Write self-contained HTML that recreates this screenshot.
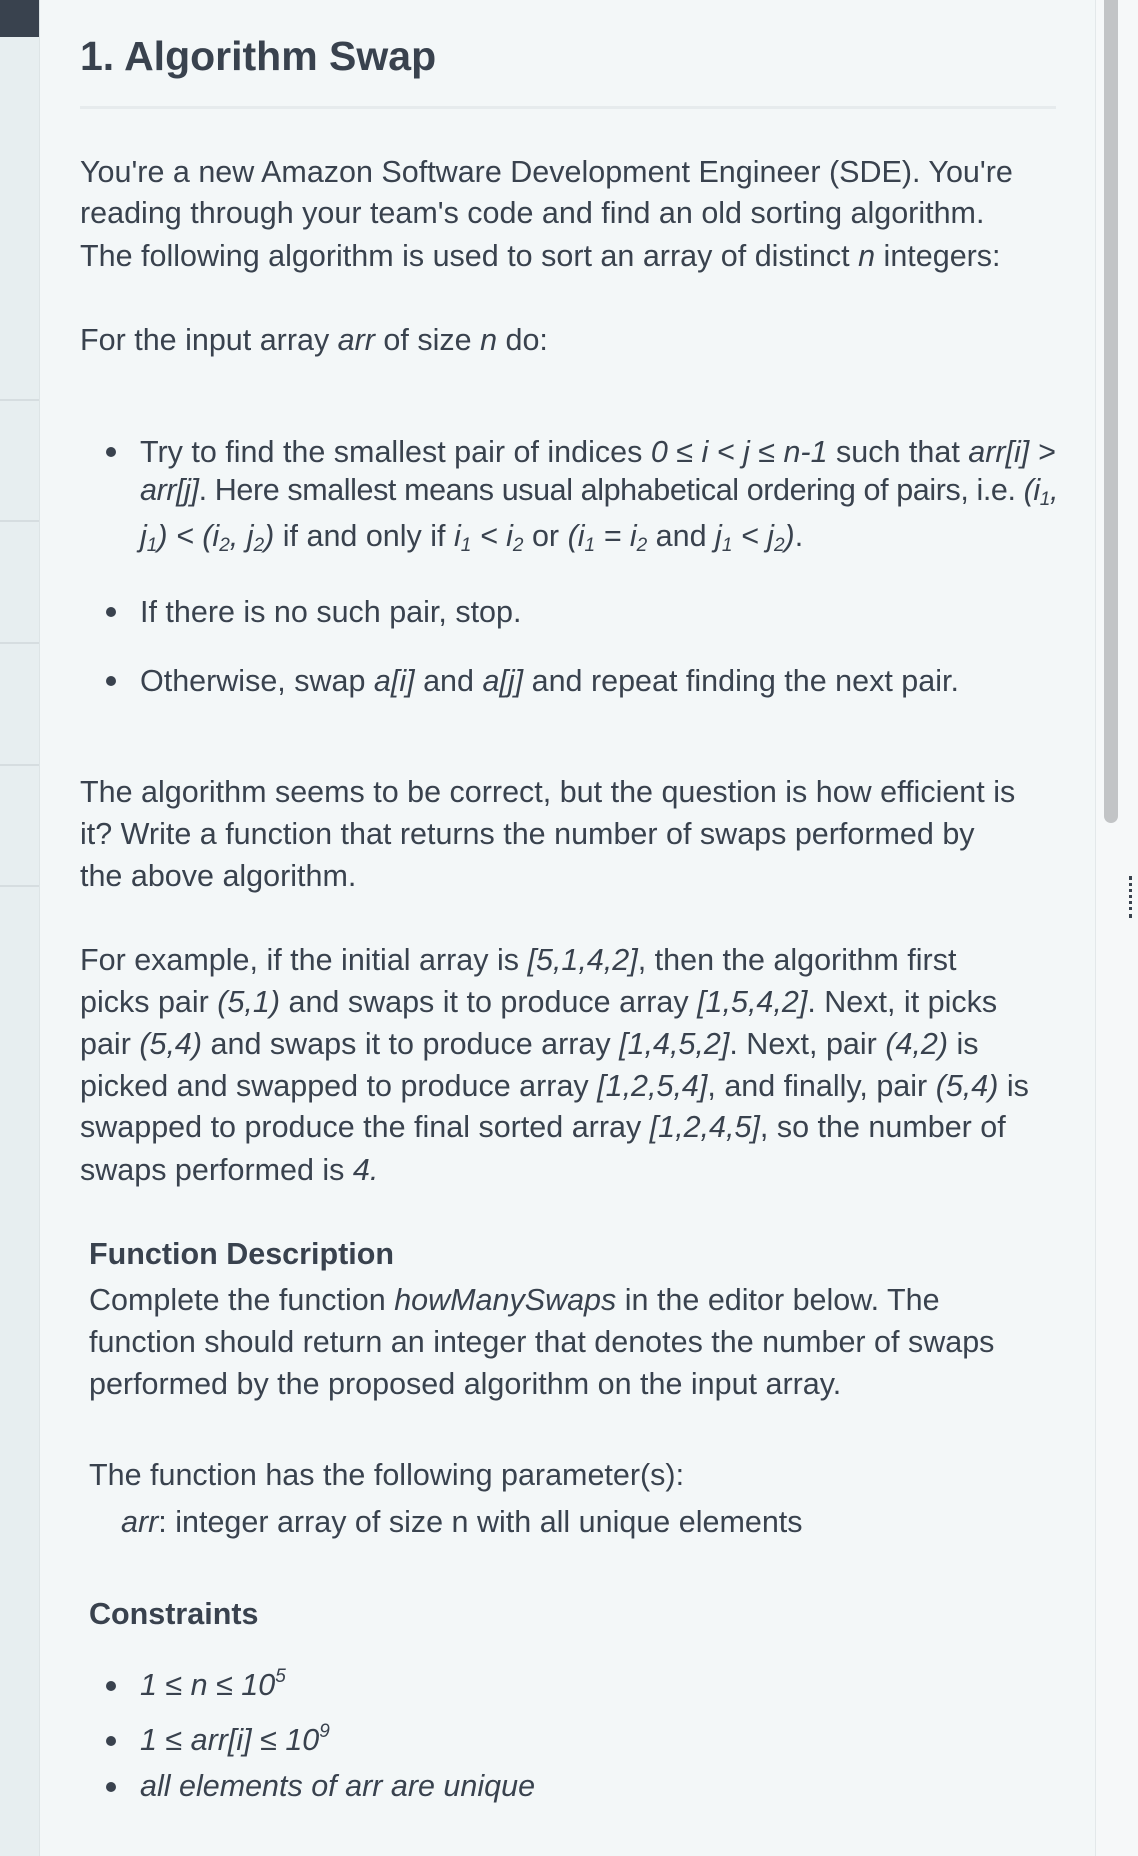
<!DOCTYPE html>
<html><head><meta charset="utf-8"><style>
html,body{margin:0;padding:0}
body{width:1138px;height:1856px;position:relative;overflow:hidden;background:#f3f7f8;font-family:"Liberation Sans",sans-serif;color:#39424e}
.side{position:absolute;left:0;top:0;width:39px;height:1856px;background:#e7eef0;border-right:1px solid #dde4e6}
.side .blk{position:absolute;left:0;top:0;width:39px;height:37px;background:#39424e}
.side .ln{position:absolute;left:0;width:39px;height:2px;background:#d6dde0}
.right{position:absolute;left:1095px;top:0;width:43px;height:1856px;background:#f6f8f9;border-left:1px solid #e3e8ea}
.thumb{position:absolute;left:1104px;top:0;width:14px;height:823px;background:#c2c4c6;border-radius:0 0 7px 7px}
.dots{position:absolute;left:1129px;top:876px;width:3px;height:42px;border-left:3px dotted #39424e}
.l{position:absolute;white-space:nowrap;height:42px;line-height:42px;font-size:30.5px}
.h1{position:absolute;left:80px;top:30px;font-size:41px;font-weight:bold;line-height:52px;white-space:nowrap}
.hr{position:absolute;left:80px;top:106px;width:976px;height:3px;background:#e6ebed}
.b{font-weight:bold}
.dot{position:absolute;width:10px;height:10px;border-radius:50%;background:#39424e}
sub{font-size:19px;vertical-align:-5px;line-height:0}
sup{font-size:19px;vertical-align:13px;line-height:0}
</style></head><body>
<div class="side"><div class="blk"></div>
<div class="ln" style="top:399px"></div><div class="ln" style="top:520px"></div><div class="ln" style="top:642px"></div><div class="ln" style="top:764px"></div><div class="ln" style="top:885px"></div></div>
<div class="right"></div><div class="thumb"></div><div class="dots"></div>

<div class="h1">1. Algorithm Swap</div>
<div class="hr"></div>

<div class="l" style="left:80px;top:151px">You're a new Amazon Software Development Engineer (SDE). You're</div>
<div class="l" style="left:80px;top:192px">reading through your team's code and find an old sorting algorithm.</div>
<div class="l" style="left:80px;top:235px">The following algorithm is used to sort an array of distinct <i>n</i> integers:</div>
<div class="l" style="left:80px;top:319px">For the input array <i>arr</i> of size <i>n</i> do:</div>

<div class="dot" style="left:106px;top:447px"></div>
<div class="l" style="left:140px;top:431px">Try to find the smallest pair of indices <i>0 ≤ i &lt; j ≤ n-1</i> such that <i>arr[i] &gt;</i></div>
<div class="l" style="left:140px;top:469px;letter-spacing:-0.4px"><i>arr[j]</i>. Here smallest means usual alphabetical ordering of pairs, i.e. <i>(i<sub>1</sub>,</i></div>
<div class="l" style="left:140px;top:515px"><i>j<sub>1</sub>) &lt; (i<sub>2</sub>, j<sub>2</sub>)</i> if and only if <i>i<sub>1</sub> &lt; i<sub>2</sub></i> or <i>(i<sub>1</sub> = i<sub>2</sub></i> and <i>j<sub>1</sub> &lt; j<sub>2</sub>)</i>.</div>
<div class="dot" style="left:106px;top:607px"></div>
<div class="l" style="left:140px;top:591px">If there is no such pair, stop.</div>
<div class="dot" style="left:106px;top:676px"></div>
<div class="l" style="left:140px;top:660px">Otherwise, swap <i>a[i]</i> and <i>a[j]</i> and repeat finding the next pair.</div>

<div class="l" style="left:80px;top:771px">The algorithm seems to be correct, but the question is how efficient is</div>
<div class="l" style="left:80px;top:813px">it? Write a function that returns the number of swaps performed by</div>
<div class="l" style="left:80px;top:855px">the above algorithm.</div>

<div class="l" style="left:80px;top:939px">For example, if the initial array is <i>[5,1,4,2]</i>, then the algorithm first</div>
<div class="l" style="left:80px;top:981px">picks pair <i>(5,1)</i> and swaps it to produce array <i>[1,5,4,2]</i>. Next, it picks</div>
<div class="l" style="left:80px;top:1023px">pair <i>(5,4)</i> and swaps it to produce array <i>[1,4,5,2]</i>. Next, pair <i>(4,2)</i> is</div>
<div class="l" style="left:80px;top:1065px">picked and swapped to produce array <i>[1,2,5,4]</i>, and finally, pair <i>(5,4)</i> is</div>
<div class="l" style="left:80px;top:1106px">swapped to produce the final sorted array <i>[1,2,4,5]</i>, so the number of</div>
<div class="l" style="left:80px;top:1149px">swaps performed is <i>4.</i></div>

<div class="l b" style="left:89px;top:1233px">Function Description</div>
<div class="l" style="left:89px;top:1279px">Complete the function <i>howManySwaps</i> in the editor below. The</div>
<div class="l" style="left:89px;top:1321px">function should return an integer that denotes the number of swaps</div>
<div class="l" style="left:89px;top:1363px">performed by the proposed algorithm on the input array.</div>
<div class="l" style="left:89px;top:1454px">The function has the following parameter(s):</div>
<div class="l" style="left:121px;top:1501px"><i>arr</i>: integer array of size n with all unique elements</div>
<div class="l b" style="left:89px;top:1593px">Constraints</div>

<div class="dot" style="left:106px;top:1681px"></div>
<div class="l" style="left:140px;top:1664px"><i>1 ≤ n ≤ 10<sup>5</sup></i></div>
<div class="dot" style="left:106px;top:1736px"></div>
<div class="l" style="left:140px;top:1719px"><i>1 ≤ arr[i] ≤ 10<sup>9</sup></i></div>
<div class="dot" style="left:106px;top:1782px"></div>
<div class="l" style="left:140px;top:1765px"><i>all elements of arr are unique</i></div>
</body></html>
